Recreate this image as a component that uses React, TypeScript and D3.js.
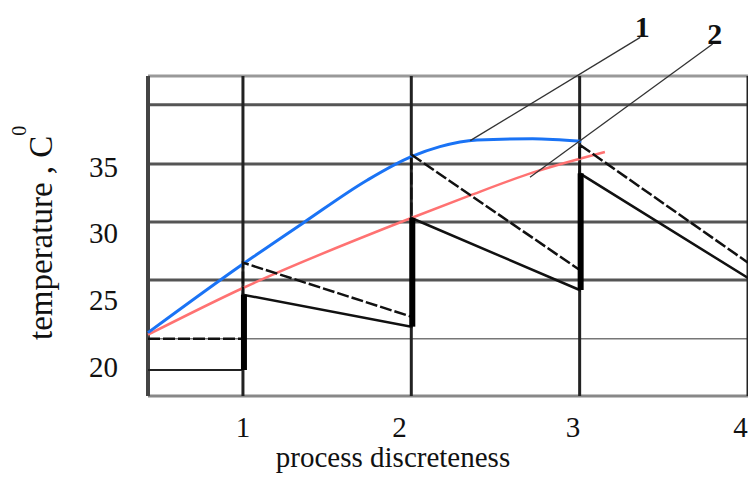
import React, { useEffect, useRef } from 'react';
import * as d3 from 'd3';

// curve 1 (blue) and curve 2 (red)
const blueX = [0.436, 1.0, 1.36, 1.74, 2.0, 2.17, 2.39, 2.72, 3.01];
const blueY = [22.55, 27.7, 30.8, 34.0, 35.75, 36.5, 37.0, 37.1, 36.9];
const redX = [0.436, 1.0, 2.0, 2.33, 2.72, 3.15];
const redY = [22.4, 25.9, 31.15, 32.75, 34.55, 36.1];

// sawtooth lines (dashed = 1, solid = 2)
const sawDashedX = [0.436, 1, 1, 2, 2, 3, 3, 4];
const sawDashedY = [22.1, 22.1, 27.8, 23.75, 35.9, 27.25, 36.65, 27.8];
const sawSolidX = [0.436, 1, 1, 2, 2, 3, 3, 4];
const sawSolidY = [19.75, 19.75, 25.4, 23.0, 31.15, 25.75, 34.5, 26.65];

const xGrid = [1, 2, 3, 4];
const xTickLabels = ['1', '2', '3', '4'];
const xTickPos = [1, 1.93, 2.96, 3.955];
const yTicks = [20, 25, 30, 35];
const yGrid = [39.65, 35.2, 30.85, 26.5];
const yGridThin = [22.1];

const calloutLabels = ['1', '2'];
const calloutFromX = [2.35, 2.705];
const calloutFromY = [36.95, 34.2];
const calloutToX = [3.36, 3.79];
const calloutToY = [44.7, 44.2];

const W = 748;
const H = 477;
const margin = { top: 76, right: 0, bottom: 81, left: 148 };
const font = '"Liberation Serif", "Times New Roman", serif';

const App = () => {
  const ref = useRef<SVGSVGElement | null>(null);

  useEffect(() => {
    const svg = d3.select(ref.current);
    svg.selectAll('*').remove();

    const x = d3.scaleLinear().domain([0.436, 4.0]).range([margin.left, W - margin.right]);
    const y = d3.scaleLinear().domain([17.8, 41.8]).range([H - margin.bottom, margin.top]);

    svg.append('rect').attr('width', W).attr('height', H).attr('fill', '#fff');

    // grid
    svg.selectAll('.hgrid')
      .data(yGrid)
      .enter()
      .append('line')
      .attr('x1', x(0.436)).attr('x2', x(4.0))
      .attr('y1', d => y(d)).attr('y2', d => y(d))
      .attr('stroke', '#555').attr('stroke-width', 3);

    svg.selectAll('.hgridthin')
      .data(yGridThin)
      .enter()
      .append('line')
      .attr('x1', x(0.436)).attr('x2', x(4.0))
      .attr('y1', d => y(d)).attr('y2', d => y(d))
      .attr('stroke', '#777').attr('stroke-width', 1.5);

    // frame
    svg.append('line')
      .attr('x1', x(0.436)).attr('x2', x(4.0))
      .attr('y1', y(41.8)).attr('y2', y(41.8))
      .attr('stroke', '#999').attr('stroke-width', 3);
    svg.append('line')
      .attr('x1', x(0.436)).attr('x2', x(4.0))
      .attr('y1', y(17.8)).attr('y2', y(17.8))
      .attr('stroke', '#888').attr('stroke-width', 3);
    svg.append('line')
      .attr('x1', x(0.436)).attr('x2', x(0.436))
      .attr('y1', y(41.8)).attr('y2', y(17.8))
      .attr('stroke', '#444').attr('stroke-width', 4);

    svg.selectAll('.vgrid')
      .data(xGrid)
      .enter()
      .append('line')
      .attr('x1', d => x(d)).attr('x2', d => x(d))
      .attr('y1', y(41.8)).attr('y2', y(17.8))
      .attr('stroke', '#222').attr('stroke-width', 3);

    const line = d3.line<[number, number]>()
      .x(d => x(d[0]))
      .y(d => y(d[1]));

    // curves
    svg.append('path')
      .attr('d', line.curve(d3.curveMonotoneX)(redX.map((v, i) => [v, redY[i]])))
      .attr('fill', 'none').attr('stroke', '#ff7272').attr('stroke-width', 2.5);
    svg.append('path')
      .attr('d', line.curve(d3.curveMonotoneX)(blueX.map((v, i) => [v, blueY[i]])))
      .attr('fill', 'none').attr('stroke', '#1a73f5').attr('stroke-width', 3);

    const straight = d3.line<[number, number]>().x(d => x(d[0])).y(d => y(d[1]));

    // sawtooth lines (first flat stretch drawn thinner)
    svg.append('path')
      .attr('d', straight(sawSolidX.slice(0, 2).map((v, i) => [v, sawSolidY[i]])))
      .attr('fill', 'none').attr('stroke', '#222').attr('stroke-width', 1.8);
    svg.append('path')
      .attr('d', straight(sawSolidX.slice(1).map((v, i) => [v, sawSolidY[i + 1]])))
      .attr('fill', 'none').attr('stroke', '#111').attr('stroke-width', 2.5);
    svg.append('path')
      .attr('d', straight(sawDashedX.map((v, i) => [v, sawDashedY[i]])))
      .attr('fill', 'none').attr('stroke', '#111').attr('stroke-width', 2.5)
      .attr('stroke-dasharray', '12,3');

    // heavy jumps of the solid line
    const jumps = sawSolidX.slice(1).map((v, i) => ({ x0: sawSolidX[i], x1: v, y0: sawSolidY[i], y1: sawSolidY[i + 1] }))
      .filter(d => d.x0 === d.x1);
    svg.selectAll('.jump')
      .data(jumps)
      .enter()
      .append('line')
      .attr('x1', d => x(d.x0) + 1).attr('x2', d => x(d.x1) + 1)
      .attr('y1', d => y(d.y0)).attr('y2', d => y(d.y1))
      .attr('stroke', '#000').attr('stroke-width', 6);

    // callouts
    svg.selectAll('.leader')
      .data(calloutLabels)
      .enter()
      .append('line')
      .attr('x1', (d, i) => x(calloutFromX[i])).attr('y1', (d, i) => y(calloutFromY[i]))
      .attr('x2', (d, i) => x(calloutToX[i])).attr('y2', (d, i) => y(calloutToY[i]))
      .attr('stroke', '#333').attr('stroke-width', 1.3);
    svg.selectAll('.callout')
      .data(calloutLabels)
      .enter()
      .append('text')
      .attr('x', (d, i) => x(calloutToX[i]) + 2)
      .attr('y', (d, i) => y(calloutToY[i]))
      .attr('text-anchor', 'middle')
      .attr('font-family', font).attr('font-weight', 'bold').attr('font-size', 30)
      .attr('fill', '#111')
      .text(d => d);

    // tick labels
    svg.selectAll('.xtick')
      .data(xTickLabels)
      .enter()
      .append('text')
      .attr('x', (d, i) => x(xTickPos[i]))
      .attr('y', 437)
      .attr('text-anchor', 'middle')
      .attr('font-family', font).attr('font-size', 29).attr('fill', '#111')
      .text(d => d);

    svg.selectAll('.ytick')
      .data(yTicks)
      .enter()
      .append('text')
      .attr('x', 118)
      .attr('y', d => y(d))
      .attr('dy', '0.35em')
      .attr('text-anchor', 'end')
      .attr('font-family', font).attr('font-size', 29).attr('fill', '#111')
      .text(d => d);

    // axis titles
    svg.append('text')
      .attr('x', 393).attr('y', 467)
      .attr('text-anchor', 'middle')
      .attr('font-family', font).attr('font-size', 29).attr('fill', '#111')
      .text('process discreteness');

    const yt = svg.append('text')
      .attr('transform', 'translate(52, 340) rotate(-90)')
      .attr('font-family', font).attr('font-size', 33).attr('fill', '#111');
    yt.append('tspan').text('temperature , C');
    yt.append('tspan').attr('dy', -26).attr('font-size', 20).text('0');
  }, []);

  return (
    <svg ref={ref} width={W} height={H} style={{ position: 'absolute', left: 0, top: 0 }}></svg>
  );
};

export default App;
